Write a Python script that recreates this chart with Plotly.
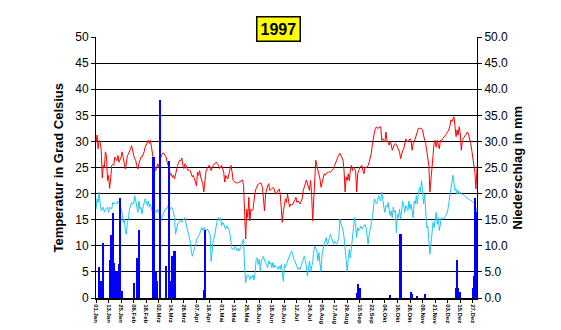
import datetime as dt
import plotly.graph_objects as go

year_start = dt.date(1997, 1, 1)

# Daily maximum temperature (°C), 1 Jan .. 31 Dec 1997
tmax = [
    29.8, 31.2, 28.6, 30.2, 29.8, 28.3, 23.0, 25.4, 25.0, 28.0,
    27.3, 22.5, 23.5, 21.0, 22.8, 25.4, 25.6, 25.4, 27.0, 26.5,
    26.3, 27.3, 26.0, 26.5, 27.0, 28.0, 26.7, 26.0, 24.7, 25.8,
    27.3, 27.6, 28.0, 28.6, 29.2, 28.0, 27.3, 26.7, 26.3, 25.4,
    24.7, 25.7, 26.4, 27.0, 27.0, 27.4, 28.0, 28.9, 29.3, 29.6,
    30.2, 29.6, 30.2, 28.9, 27.5, 26.7, 25.0, 24.4, 25.4, 25.7,
    25.2, 26.3, 27.0, 27.5, 27.8, 27.6, 27.3, 27.0, 26.0, 25.4,
    24.7, 23.5, 23.8, 23.1, 23.5, 22.8, 23.8, 24.5, 25.4, 26.0,
    26.4, 26.3, 26.8, 25.5, 24.8, 25.7, 25.4, 24.8, 24.4, 24.6,
    24.4, 23.8, 23.2, 23.5, 22.5, 22.2, 21.5, 24.1, 23.5, 24.4,
    23.2, 22.5, 21.9, 20.3, 22.8, 24.1, 24.8, 25.0, 25.4, 25.1,
    24.4, 25.0, 25.4, 25.7, 25.9, 26.0, 25.7, 25.4, 24.8, 25.0,
    25.4, 24.6, 24.1, 22.2, 23.5, 23.0, 22.8, 23.8, 24.5, 25.4,
    24.1, 22.5, 22.3, 22.2, 22.1, 22.0, 22.1, 22.2, 22.4, 22.5,
    22.6, 21.5, 17.4, 11.3, 17.0, 15.4, 19.3, 14.8, 17.0, 16.7,
    17.0, 19.3, 20.3, 21.0, 21.5, 21.8, 22.0, 21.9, 21.9, 21.2,
    19.3, 16.7, 19.9, 21.0, 21.5, 21.9, 20.6, 20.8, 20.9, 21.2,
    21.0, 20.3, 19.9, 20.3, 20.6, 20.9, 19.9, 16.7, 14.5, 16.7,
    18.2, 19.0, 18.3, 19.9, 18.6, 17.4, 18.0, 17.8, 18.0, 18.3,
    18.8, 19.3, 18.3, 18.6, 18.4, 18.0, 18.5, 19.0, 20.6, 21.5,
    21.9, 22.6, 22.0, 21.5, 20.6, 22.5, 19.9, 14.8, 18.6, 24.8,
    26.4, 25.4, 24.5, 23.8, 22.8, 21.2, 22.0, 22.8, 23.8, 23.5,
    23.8, 24.1, 24.1, 24.2, 24.1, 24.3, 24.4, 24.8, 25.4, 25.8,
    26.4, 27.0, 27.3, 27.7, 27.3, 26.8, 26.4, 24.4, 20.3, 23.2,
    22.5, 23.8, 22.5, 24.5, 25.4, 24.4, 25.1, 24.8, 24.4, 20.3,
    23.8, 24.4, 25.1, 25.2, 25.4, 24.4, 23.8, 25.1, 25.0, 25.1,
    25.4, 26.0, 26.8, 27.7, 29.3, 30.9, 31.8, 32.5, 32.8, 32.5,
    32.6, 32.8, 32.8, 30.2, 30.5, 30.2, 29.9, 31.8, 30.2, 29.8,
    29.3, 29.9, 29.5, 28.3, 28.9, 29.3, 29.6, 29.4, 28.9, 28.4,
    28.0, 26.7, 27.7, 28.2, 28.6, 29.6, 30.5, 29.9, 30.0, 30.2,
    30.5, 30.2, 28.3, 29.6, 29.9, 30.5, 31.2, 31.8, 32.5, 32.5,
    32.5, 32.5, 32.2, 30.9, 30.2, 29.6, 28.0, 26.5, 25.4, 20.3,
    23.2, 24.8, 27.3, 29.6, 30.2, 28.9, 30.2, 29.3, 28.6, 30.2,
    29.9, 30.5, 30.7, 30.9, 31.2, 31.5, 31.8, 32.2, 32.8, 34.1,
    33.8, 34.3, 34.7, 32.8, 30.9, 32.2, 31.2, 32.8, 31.5, 28.3,
    30.2, 30.6, 30.9, 31.2, 31.5, 31.8, 31.2, 30.5, 29.6, 28.3,
    27.0, 25.4, 24.1, 20.9, 24.8,
]

# Daily minimum temperature (°C)
tmin = [
    17.0, 19.0, 18.3, 20.3, 18.0, 16.7, 17.0, 17.4, 16.4, 17.0,
    17.2, 17.4, 16.4, 17.4, 17.2, 17.0, 18.3, 18.0, 18.3, 18.1,
    18.0, 18.6, 18.3, 18.0, 17.0, 16.1, 14.5, 15.1, 12.9, 12.2,
    14.5, 15.1, 17.0, 17.7, 18.3, 18.0, 18.0, 19.6, 18.6, 18.0,
    16.4, 18.6, 17.0, 17.4, 16.1, 17.4, 18.3, 19.0, 18.5, 17.7,
    18.6, 17.4, 18.0, 17.4, 16.4, 16.4, 16.5, 16.7, 16.4, 17.0,
    16.5, 15.8, 15.1, 15.4, 15.9, 16.7, 17.0, 17.0, 17.4, 17.7,
    17.4, 17.0, 17.4, 17.2, 16.4, 15.4, 12.2, 13.5, 14.2, 14.5,
    14.6, 14.8, 14.5, 14.8, 15.1, 15.4, 14.2, 13.2, 12.5, 11.5,
    10.9, 9.0, 8.0, 8.7, 9.6, 10.0, 10.9, 11.6, 11.9, 12.2,
    12.9, 13.5, 12.9, 13.5, 13.2, 12.9, 13.2, 13.0, 12.5, 12.2,
    7.0, 10.0, 11.0, 11.6, 12.9, 13.5, 15.1, 15.4, 14.8, 15.4,
    13.8, 14.5, 14.2, 13.6, 13.2, 13.8, 13.5, 13.2, 12.2, 10.3,
    9.3, 9.5, 9.3, 10.0, 9.3, 9.0, 9.6, 9.0, 9.6, 10.0,
    10.9, 11.3, 5.8, 2.9, 4.2, 4.5, 4.2, 3.5, 4.2, 3.9,
    4.4, 3.5, 4.9, 7.4, 7.7, 6.4, 7.4, 5.1, 7.1, 7.7,
    8.0, 7.1, 6.8, 6.2, 5.8, 7.1, 6.5, 6.8, 5.8, 6.8,
    5.8, 6.3, 6.1, 5.8, 5.5, 6.1, 5.5, 6.4, 4.5, 3.2,
    6.4, 5.8, 6.5, 7.1, 7.7, 8.4, 8.7, 9.0, 8.0, 7.4,
    7.1, 6.5, 5.8, 5.5, 5.8, 5.5, 6.2, 6.8, 7.7, 8.0,
    7.2, 6.1, 4.2, 6.4, 7.1, 5.1, 6.0, 6.8, 9.0, 10.0,
    9.5, 9.0, 7.1, 8.7, 6.5, 5.1, 8.4, 10.0, 10.5, 10.9,
    11.6, 10.0, 10.9, 11.5, 12.2, 11.6, 10.9, 10.3, 10.9, 10.5,
    10.3, 10.9, 11.6, 15.1, 14.5, 13.5, 12.9, 11.6, 9.6, 7.1,
    5.1, 7.4, 9.3, 7.7, 9.6, 11.6, 13.8, 15.4, 13.8, 11.6,
    13.5, 12.9, 13.3, 13.8, 13.2, 13.5, 13.8, 14.1, 13.5, 12.2,
    10.3, 12.2, 13.2, 14.1, 15.4, 17.0, 19.0, 18.5, 18.0, 18.6,
    19.6, 19.0, 18.6, 20.3, 18.3, 17.4, 16.4, 17.7, 17.4, 18.3,
    17.0, 15.8, 16.7, 15.4, 17.4, 16.4, 16.8, 12.5, 16.1, 15.4,
    17.0, 15.1, 16.8, 18.6, 17.7, 16.4, 17.7, 17.2, 16.7, 18.6,
    17.0, 18.0, 16.1, 15.4, 18.6, 18.0, 19.6, 18.0, 19.9, 21.2,
    20.3, 22.5, 20.6, 18.0, 19.9, 16.7, 13.5, 13.8, 10.0, 8.4,
    10.3, 13.5, 14.5, 13.5, 14.8, 16.4, 14.1, 15.4, 12.9, 14.8,
    15.4, 15.1, 15.2, 15.4, 15.8, 16.1, 16.7, 18.3, 19.9, 21.2,
    22.2, 23.5, 21.5, 20.6, 20.9, 19.9, 20.6, 19.9, 20.3, 19.9,
    19.9, 19.8, 19.6, 19.4, 19.3, 19.0, 19.0, 18.8, 18.7, 18.6,
    18.4, 18.2, 18.0, 16.4, 17.4,
]

# Precipitation (mm): day of year (0 = 1 Jan) and amount
rain_doy = [3, 5, 7, 13, 14, 16, 17, 19, 20, 22, 23, 25, 36, 39, 41,
            55, 57, 58, 61, 67, 70, 72, 73, 75, 103, 104,
            249, 250, 252, 281, 291, 301, 302, 307, 314,
            344, 345, 346, 348, 360, 361, 362, 363]
rain_mm = [6.0, 3.3, 10.5, 7.2, 12.0, 16.2, 6.8, 5.0, 5.0, 6.6, 19.2, 1.3, 2.9, 7.6, 13.0,
           27.0, 5.0, 3.3, 38.0, 6.1, 26.3, 3.3, 8.0, 9.1, 1.5, 13.0,
           1.0, 2.6, 1.9, 0.6, 12.2, 1.1, 0.8, 0.3, 0.8,
           1.9, 7.2, 1.9, 1.1, 1.9, 4.2, 19.2, 16.5]

month_de = ["Jan", "Feb", "Mrz", "Apr", "Mai", "Jun", "Jul", "Aug", "Sep", "Okt", "Nov", "Dez"]
tick_step_days = 12

dates = [year_start + dt.timedelta(days=i) for i in range(len(tmax))]
rain_dates = [year_start + dt.timedelta(days=d) for d in rain_doy]
tick_dates = dates[::tick_step_days]
tick_text = [f"{d.day:02d}.{month_de[d.month - 1]}" for d in tick_dates]

FONT = "Arial, Liberation Sans, sans-serif"

fig = go.Figure()
fig.add_trace(go.Scatter(x=dates, y=tmax, mode="lines", name="Max",
                         line=dict(color="#FF0000", width=1), yaxis="y"))
fig.add_trace(go.Scatter(x=dates, y=tmin, mode="lines", name="Min",
                         line=dict(color="#1EC8F5", width=1), yaxis="y"))
fig.add_trace(go.Bar(x=rain_dates, y=rain_mm, name="Niederschlag",
                     marker=dict(color="#0000FF", line=dict(width=0)),
                     width=2.1 * 86400000, yaxis="y2"))

x0 = dates[0] - dt.timedelta(hours=12)
x1 = dates[-1] + dt.timedelta(hours=12)

fig.update_layout(
    width=561, height=330, autosize=False,
    margin=dict(l=96, r=84, t=37, b=32),
    paper_bgcolor="white", plot_bgcolor="white",
    showlegend=False, bargap=0,
    font=dict(family=FONT, color="black", size=12),
    xaxis=dict(range=[x0, x1], tickmode="array", tickvals=tick_dates, ticktext=tick_text,
               tickangle=90, tickfont=dict(size=6, family=FONT, weight="bold"),
               ticks="outside", ticklen=3,
               tickcolor="black", showline=True, linecolor="black", linewidth=2,
               showgrid=False, zeroline=False, automargin=False),
    yaxis=dict(range=[0, 50], dtick=5, tick0=0, showgrid=True, gridcolor="black", gridwidth=1,
               showline=True, linecolor="black", linewidth=1, ticks="outside", ticklen=4,
               tickcolor="black", tickfont=dict(size=12), zeroline=False, automargin=False),
    yaxis2=dict(range=[0, 50], dtick=5, tick0=0, overlaying="y", side="right", showgrid=False,
                showline=True, linecolor="black", linewidth=1, ticks="outside", ticklen=4,
                tickcolor="black", tickformat=".1f", tickfont=dict(size=12), zeroline=False,
                automargin=False),
    annotations=[
        dict(text="<b>Temperatur in Grad Celsius</b>", xref="paper", yref="paper", x=0, y=0.5,
             xanchor="center", yanchor="middle",
             xshift=-38, textangle=-90, showarrow=False, font=dict(size=13)),
        dict(text="<b>Niederschlag in mm</b>", xref="paper", yref="paper", x=1, y=0.5,
             xanchor="center", yanchor="middle",
             xshift=40, textangle=-90, showarrow=False, font=dict(size=13)),
        dict(text="<b>1997</b>", xref="paper", yref="paper", x=0.48, y=1.031,
             xanchor="center", yanchor="middle",
             showarrow=False, font=dict(size=16), bgcolor="#FFFF00", bordercolor="black",
             borderwidth=1.5, borderpad=3),
    ],
)

fig.write_html("out.html")
